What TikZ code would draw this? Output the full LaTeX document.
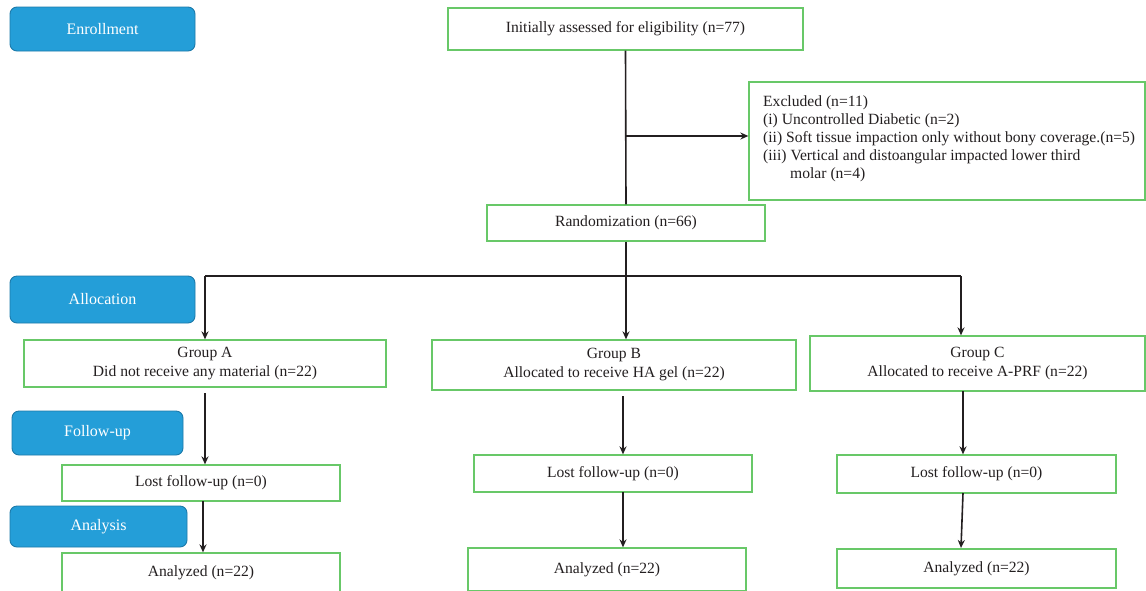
\documentclass[tikz,border=0pt]{standalone}
\usepackage{fontspec}
\setmainfont{Liberation Serif}
\usetikzlibrary{arrows.meta}
\definecolor{gbord}{RGB}{104,200,104}
\definecolor{bfill}{RGB}{36,158,216}
\definecolor{bbord}{RGB}{28,122,170}
\definecolor{txt}{RGB}{35,31,32}
\tikzset{
  x=1pt, y=-1pt,
  gbox/.style={draw=gbord, line width=1.3pt, fill=white, text=txt, inner sep=0pt, align=center, font=\fontsize{15.6}{19}\selectfont},
  bbox/.style={draw=bbord, line width=0.9pt, fill=bfill, rounded corners=7pt, text=white, inner sep=0pt, font=\fontsize{16}{18}\selectfont},
  conn/.style={draw=txt, line width=1.6pt},
  arr/.style={conn, -{Stealth[length=8pt,width=7pt]}},
}
\begin{document}
\begin{tikzpicture}
\useasboundingbox[fill=white] (0,0) rectangle (1146,590);
% stage labels
\node[bbox, minimum width=185pt, minimum height=44pt] (enr) at (102.5,29) {Enrollment};
\node[bbox, minimum width=185pt, minimum height=47pt] (alloc) at (102.5,299.5) {Allocation};
\node[bbox, minimum width=171pt, minimum height=44pt] (fol) at (97.5,433) {Follow-up};
\node[bbox, minimum width=177pt, minimum height=41pt] (ana) at (98.5,526.5) {Analysis};
% boxes
\node[gbox, minimum width=355pt, minimum height=42pt] (init) at (625.5,29) {Initially assessed for eligibility (n=77)};
\node[gbox, minimum width=396pt, minimum height=118pt] (excl) at (947,141) {};
\node[anchor=north west, text=txt, align=left, inner sep=0pt, font=\fontsize{15.6}{18}\selectfont] (excltxt) at (763,95)
 {Excluded (n=11)\\(i) Uncontrolled Diabetic (n=2)\\(ii) Soft tissue impaction only without bony coverage.(n=5)\\(iii) Vertical and distoangular impacted lower third\\\hspace*{27pt}molar (n=4)};
\node[gbox, minimum width=278pt, minimum height=36pt] (rand) at (626,223) {Randomization (n=66)};
\node[gbox, minimum width=362pt, minimum height=47pt] (ga) at (205,363.5) {Group A\\Did not receive any material (n=22)};
\node[gbox, minimum width=364pt, minimum height=50pt] (gb) at (614,365) {Group B\\Allocated to receive HA gel (n=22)};
\node[gbox, minimum width=335pt, minimum height=55pt] (gc) at (977.5,363.5) {Group C\\Allocated to receive A-PRF (n=22)};
\node[gbox, minimum width=278pt, minimum height=36pt] (la) at (201,483) {Lost follow-up (n=0)};
\node[gbox, minimum width=278pt, minimum height=37pt] (lb) at (613,473.5) {Lost follow-up (n=0)};
\node[gbox, minimum width=279pt, minimum height=38pt] (lc) at (976.5,474) {Lost follow-up (n=0)};
\node[gbox, minimum width=278pt, minimum height=39pt] (aa) at (201,572.5) {Analyzed (n=22)};
\node[gbox, minimum width=278pt, minimum height=43pt] (ab) at (607,569.5) {Analyzed (n=22)};
\node[gbox, minimum width=279pt, minimum height=39pt] (ac) at (976.5,568.5) {Analyzed (n=22)};
% connectors
\coordinate (split) at (626,136);
\coordinate (junc) at (626,276);
\coordinate (jl) at (205,276);
\coordinate (jr) at (961,276);
\draw[conn] (init.south) -- (rand.north);
\draw[arr] (split) -- (split -| excl.west);
\draw[conn] (rand.south) -- (junc);
\draw[conn] (jl) -- (jr);
\draw[arr] (jl) -- (jl |- ga.north);
\draw[arr] (junc) -- (gb.north -| junc);
\draw[arr] (jr) -- (jr |- gc.north);
\draw[arr] (205,393) coordinate (a1) -- (a1 |- la.north);
\draw[arr] (203,501) coordinate (a2) -- (a2 |- aa.north);
\draw[arr] (623,396) coordinate (b1) -- (b1 |- lb.north);
\draw[arr] (623,492) coordinate (b2) -- (b2 |- ab.north);
\draw[arr] (963,391) coordinate (c1) -- (c1 |- lc.north);
\draw[arr] (963,493) coordinate (c2) -- (961,548);
\end{tikzpicture}
\end{document}
